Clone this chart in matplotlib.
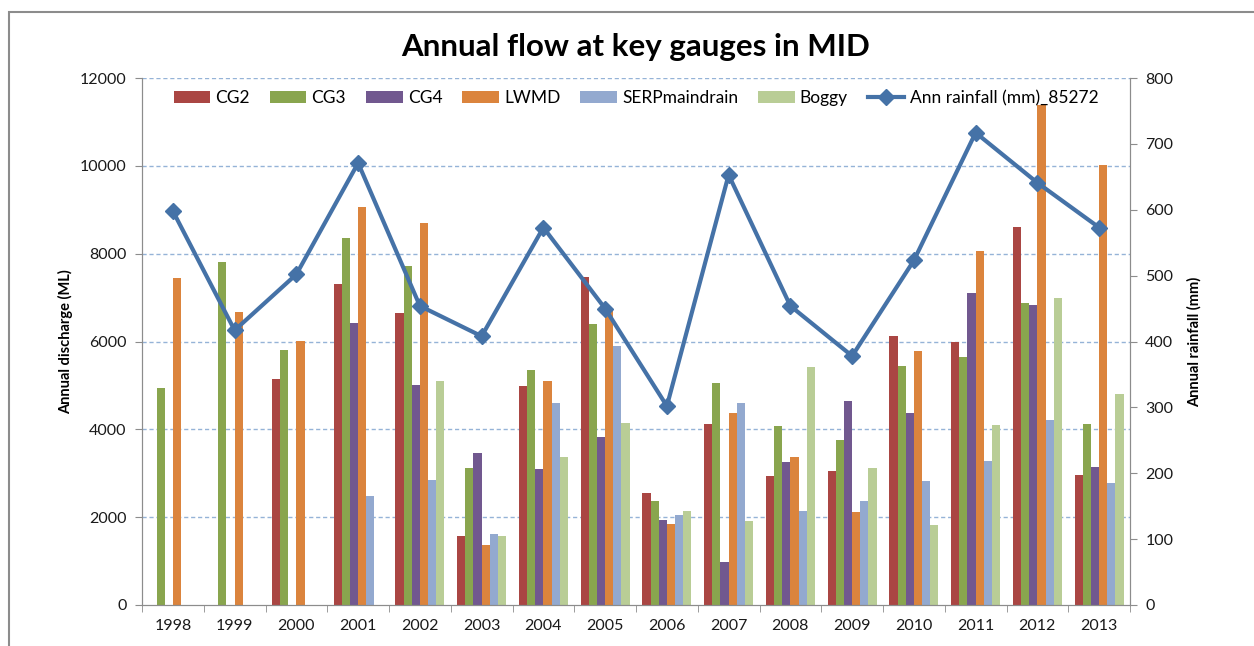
import numpy as np
import matplotlib
matplotlib.use("Agg")
import matplotlib.pyplot as plt
from matplotlib.patches import Rectangle

plt.rcParams['font.family'] = ['Lato', 'DejaVu Sans']

years = [1998, 1999, 2000, 2001, 2002, 2003, 2004, 2005,
         2006, 2007, 2008, 2009, 2010, 2011, 2012, 2013]

nan = np.nan
# annual discharge (ML) per gauge
cg2 = [nan, nan, 5140, 7300, 6640, 1560, 4980, 7460,
       2560, 4130, 2930, 3040, 6130, 5990, 8610, 2950]
cg3 = [4950, 7800, 5810, 8360, 7730, 3110, 5360, 6390,
       2360, 5050, 4070, 3750, 5440, 5640, 6870, 4130]
cg4 = [nan, nan, nan, 6420, 5020, 3450, 3090, 3830,
       1930, 970, 3260, 4640, 4380, 7110, 6830, 3150]
lwmd = [7440, 6670, 6010, 9070, 8700, 1360, 5110, 6720,
        1850, 4380, 3360, 2110, 5790, 8050, 11390, 10010]
serp = [nan, nan, nan, 2480, 2850, 1610, 4610, 5890,
        2050, 4610, 2150, 2360, 2830, 3270, 4210, 2770]
boggy = [nan, nan, nan, nan, 5110, 1580, 3360, 4140,
         2140, 1910, 5420, 3110, 1830, 4110, 6990, 4800]

# annual rainfall (mm), station 85272
rain = [598, 417, 502, 671, 454, 408, 573, 450,
        302, 653, 454, 378, 523, 717, 641, 573]

series = [("CG2", cg2, "#AA4643"), ("CG3", cg3, "#89A54E"),
          ("CG4", cg4, "#71588F"), ("LWMD", lwmd, "#DB843D"),
          ("SERPmaindrain", serp, "#93A9CF"), ("Boggy", boggy, "#B9CD96")]

fig = plt.figure(figsize=(12.54, 6.46), dpi=100)
ax = fig.add_axes([142/1254, 1 - 605/646, (1130-142)/1254, (605-78)/646])

# chart area frame
fig.patches.append(Rectangle((9/1254, -0.05), 1.2, 1 - 12/646 + 0.05,
                             transform=fig.transFigure, fill=False,
                             edgecolor="#8C8C8C", linewidth=1.5))

x = np.arange(len(years))
w = 0.1325
for i, (name, vals, col) in enumerate(series):
    ax.bar(x + (i - 2.5) * w, vals, width=w, color=col, label=name,
           linewidth=0, zorder=2)

ax.set_xlim(-0.5, len(years) - 0.5)
ax.set_ylim(0, 12000)
ax.set_yticks(np.arange(0, 12001, 2000))
ax.set_xticks(x)
ax.set_xticklabels(years)
ax.set_xticks(np.arange(-0.5, len(years)), minor=True)
ax.tick_params(axis="x", which="major", length=0, pad=10)
ax.tick_params(axis="x", which="minor", length=5, color="#8C8C8C")
ax.tick_params(axis="y", length=5, color="#8C8C8C", pad=6)
ax.tick_params(labelsize=11.5, labelcolor="#1a1a1a")
for y in range(2000, 12001, 2000):
    ax.axhline(y, color="#95B3D7", linestyle=(0, (3, 2)), linewidth=1, zorder=1)
ax.spines["top"].set_visible(False)
for s in ["left", "right", "bottom"]:
    ax.spines[s].set_color("#8C8C8C")
ax.set_ylabel("Annual discharge (ML)", fontsize=10.5, fontweight="bold", labelpad=5)

ax2 = ax.twinx()
ax2.plot(x, rain, color="#4572A7", linewidth=3, marker="D", markersize=8.5,
         label="Ann rainfall (mm)_85272", zorder=3)
ax2.set_ylim(0, 800)
ax2.set_yticks(np.arange(0, 801, 100))
ax2.tick_params(axis="y", length=5, color="#8C8C8C", labelsize=11.5,
                labelcolor="#1a1a1a", pad=6)
ax2.spines["top"].set_visible(False)
for s in ["left", "right", "bottom"]:
    ax2.spines[s].set_color("#8C8C8C")
ax2.set_ylabel("Annual rainfall (mm)", fontsize=10.5, fontweight="bold", labelpad=10)

h1, l1 = ax.get_legend_handles_labels()
h2, l2 = ax2.get_legend_handles_labels()
ax2.legend(h1 + h2, l1 + l2, loc="center", bbox_to_anchor=(0.5, 1 - 20/527),
           ncol=7, frameon=False, fontsize=12.5, handlelength=2.1,
           columnspacing=1.15, handletextpad=0.3)

fig.text((142 + 1130) / 2 / 1254, 1 - 47/646, "Annual flow at key gauges in MID",
         fontsize=22.5, fontweight="bold", ha="center", va="center")

fig.savefig("out.png", dpi=100)
